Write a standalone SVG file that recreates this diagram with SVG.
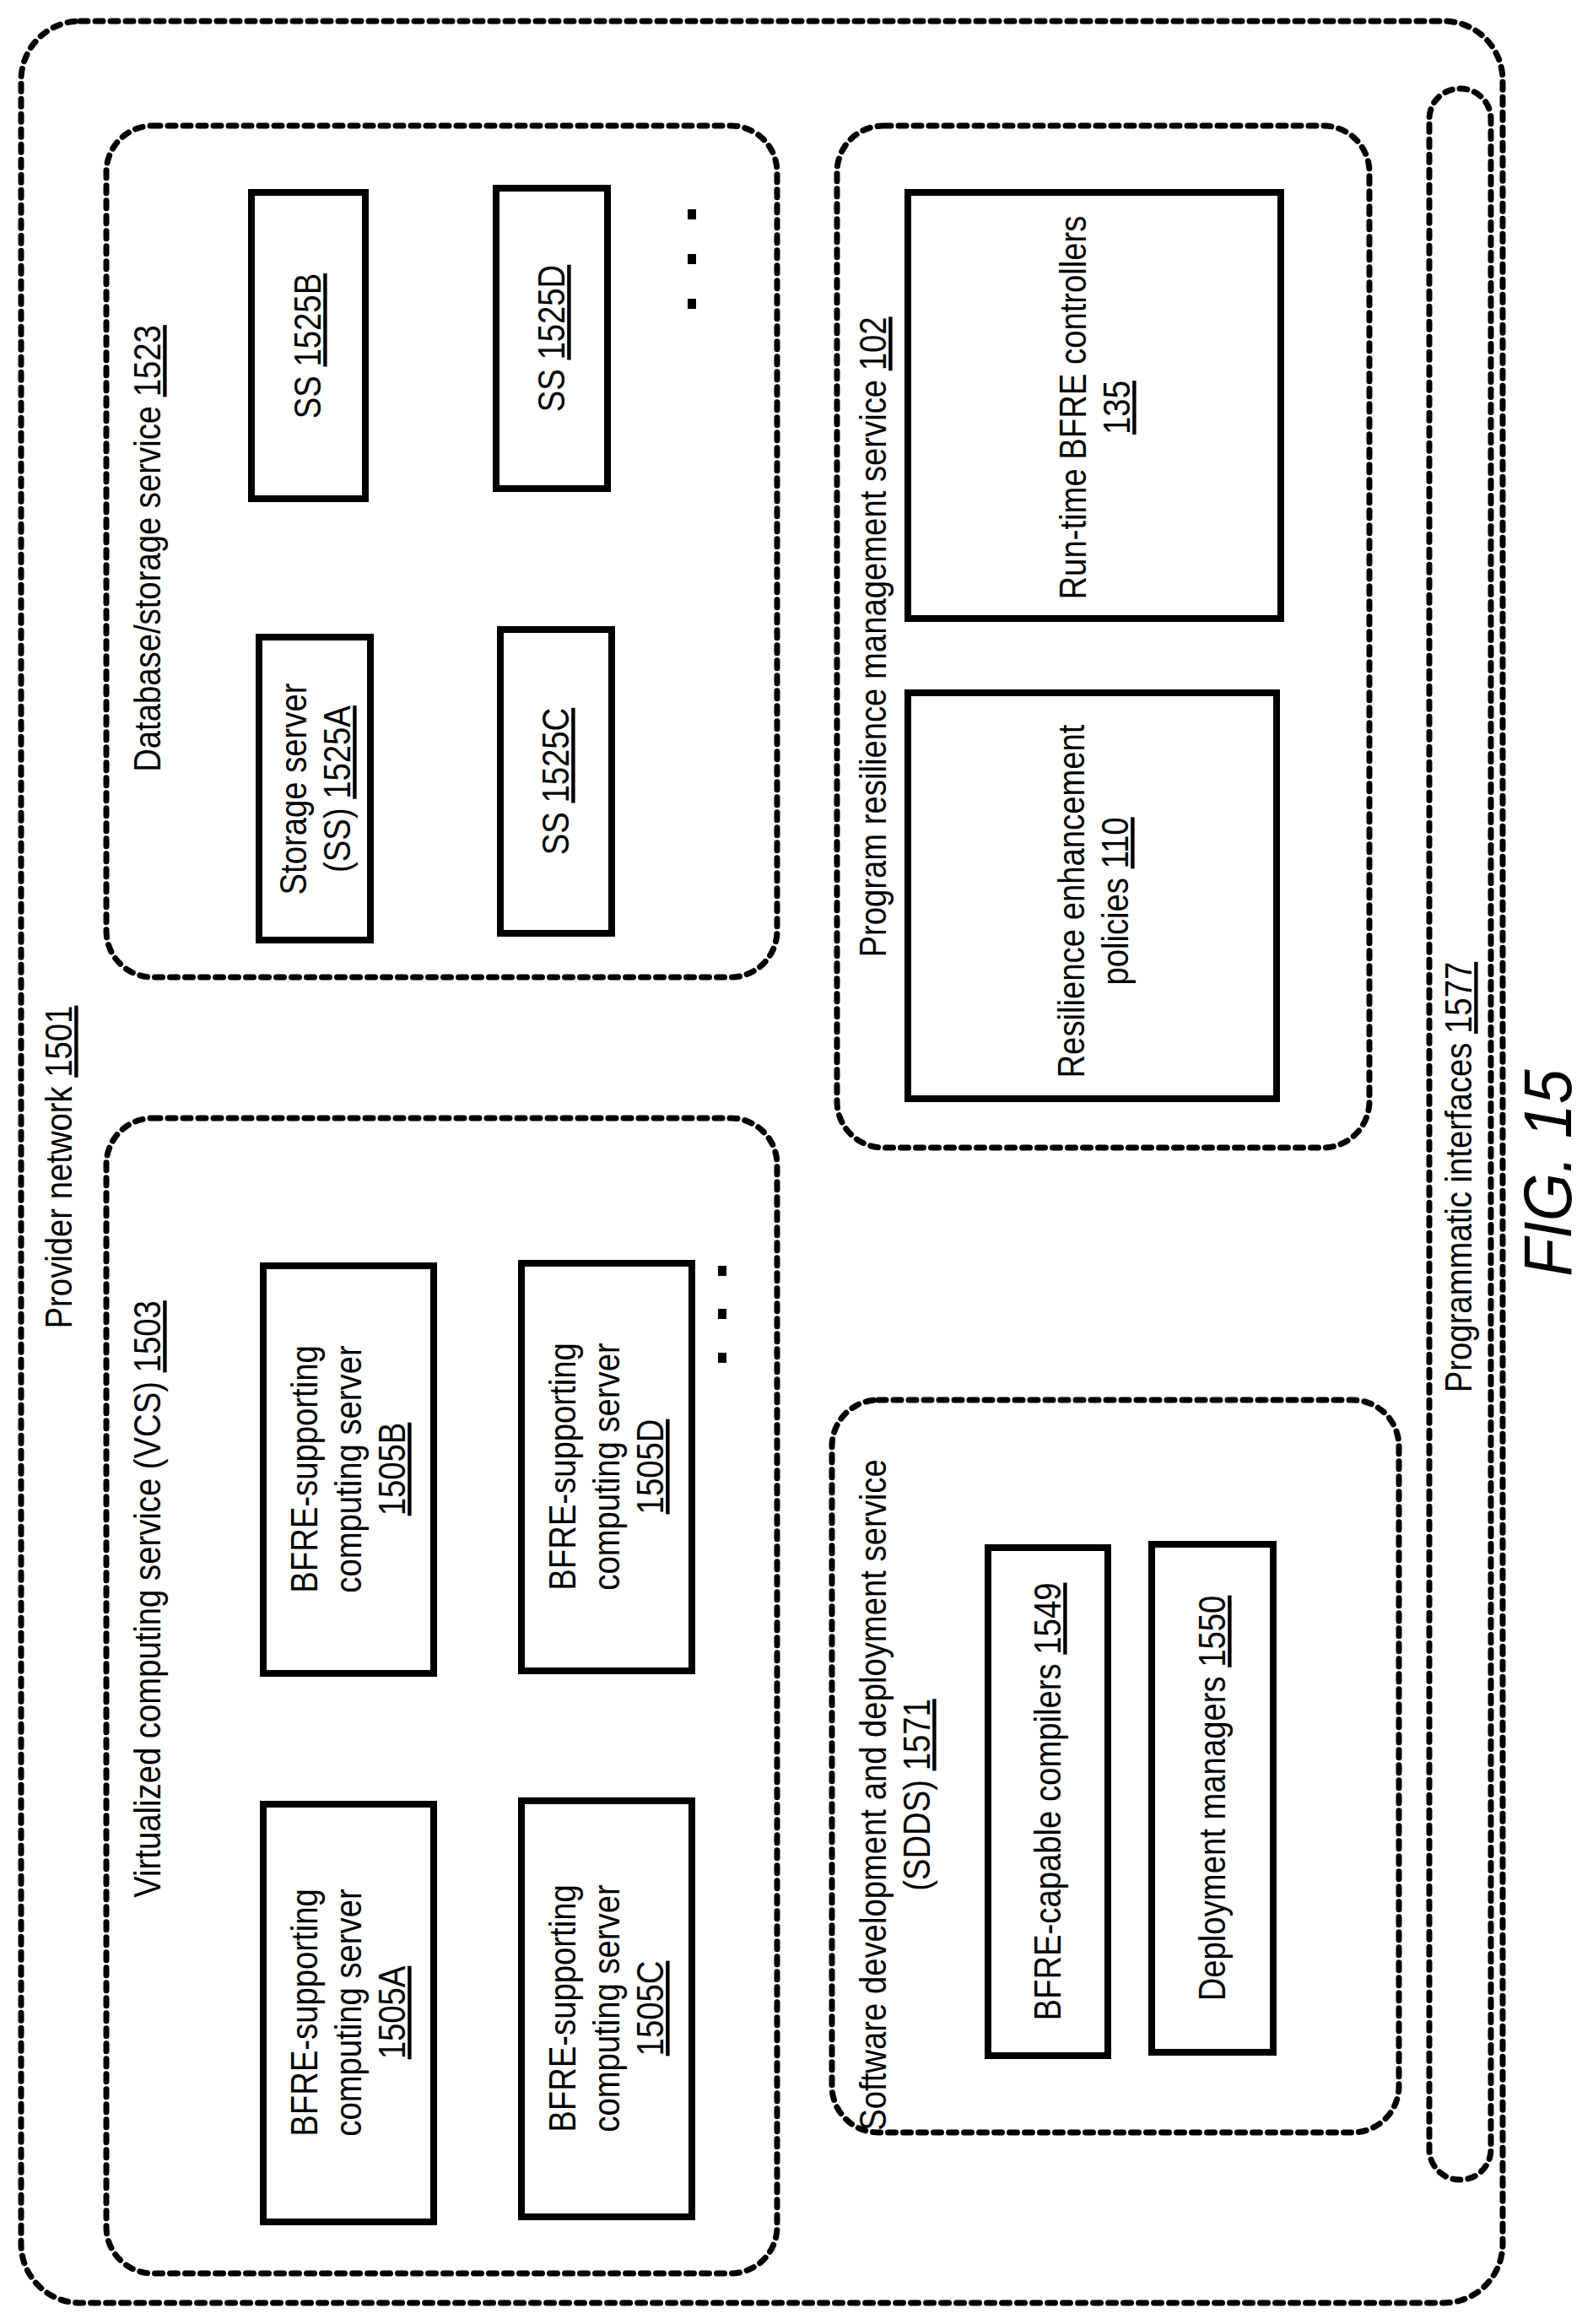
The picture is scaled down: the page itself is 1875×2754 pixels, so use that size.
<svg xmlns="http://www.w3.org/2000/svg" width="1875" height="2754" viewBox="0 0 1875 2754">
<style>
.d{fill:none;stroke:#000;stroke-width:7;stroke-dasharray:9 9;stroke-linecap:round}
.b{fill:#fff;stroke:#000;stroke-width:8}
text{font-family:"Liberation Sans",Arial,sans-serif;font-size:44px;text-anchor:middle;fill:#000}
.u{text-decoration:underline}
</style>
<rect width="1875" height="2754" fill="#fff"/>
<g id="provider"><rect class="d" x="25" y="25" width="1756" height="2704" rx="70"/>
<text transform="translate(70,1383) rotate(-90) scale(0.87,1)" dy="15">Provider network <tspan class="u">1501</tspan></text></g>
<g id="pi"><rect class="d" x="1694" y="105" width="73" height="2478" rx="36"/>
<text transform="translate(1729,1395) rotate(-90) scale(0.87,1)" dy="15">Programmatic interfaces <tspan class="u">1577</tspan></text></g>
<g id="dss"><rect class="d" x="126" y="149" width="795" height="1009" rx="55"/>
<text transform="translate(175,650) rotate(-90) scale(0.87,1)" dy="15">Database/storage service <tspan class="u">1523</tspan></text></g>
<g id="ssA"><rect class="b" x="307" y="755" width="132" height="359"/>
<text transform="translate(373,935) rotate(-90) scale(0.87,1)"><tspan x="0" dy="-10">Storage server</tspan><tspan x="0" dy="52">(SS) <tspan class="u">1525A</tspan></tspan></text></g>
<g id="ssB"><rect class="b" x="298" y="228" width="135" height="363"/>
<text transform="translate(365,410) rotate(-90) scale(0.87,1)" dy="15">SS <tspan class="u">1525B</tspan></text></g>
<g id="ssC"><rect class="b" x="593" y="746" width="132" height="360"/>
<text transform="translate(659,926) rotate(-90) scale(0.87,1)" dy="15">SS <tspan class="u">1525C</tspan></text></g>
<g id="ssD"><rect class="b" x="588" y="223" width="132" height="356"/>
<text transform="translate(654,401) rotate(-90) scale(0.87,1)" dy="15">SS <tspan class="u">1525D</tspan></text></g>
<g id="dots1" fill="#000"><rect x="815" y="248" width="10" height="12"/><rect x="815" y="301" width="10" height="12"/><rect x="815" y="354" width="10" height="12"/></g>
<g id="prms"><rect class="d" x="992" y="149" width="631" height="1211" rx="55"/>
<text transform="translate(1035,755) rotate(-90) scale(0.87,1)" dy="15">Program resilience management service <tspan class="u">102</tspan></text></g>
<g id="rep"><rect class="b" x="1076" y="821" width="437" height="481"/>
<text transform="translate(1295,1068) rotate(-90) scale(0.87,1)"><tspan x="0" dy="-10">Resilience enhancement</tspan><tspan x="0" dy="52">policies  <tspan class="u">110</tspan></tspan></text></g>
<g id="rtc"><rect class="b" x="1076" y="228" width="442" height="505"/>
<text transform="translate(1297,483) rotate(-90) scale(0.87,1)"><tspan x="0" dy="-10">Run-time BFRE controllers</tspan><tspan x="0" dy="52" class="u">135</tspan></text></g>
<g id="vcs"><rect class="d" x="126" y="1325" width="795" height="1369" rx="55"/>
<text transform="translate(175,1895) rotate(-90) scale(0.87,1)" dy="15">Virtualized computing service  (VCS) <tspan class="u">1503</tspan></text></g>
<g id="sA"><rect class="b" x="312" y="2138" width="202" height="495"/>
<text transform="translate(413,2385) rotate(-90) scale(0.87,1)"><tspan x="0" dy="-37">BFRE-supporting</tspan><tspan x="0" dy="52">computing server</tspan><tspan x="0" dy="52" class="u">1505A</tspan></text></g>
<g id="sB"><rect class="b" x="312" y="1500" width="202" height="483"/>
<text transform="translate(413,1741) rotate(-90) scale(0.87,1)"><tspan x="0" dy="-37">BFRE-supporting</tspan><tspan x="0" dy="52">computing server</tspan><tspan x="0" dy="52" class="u">1505B</tspan></text></g>
<g id="sC"><rect class="b" x="618" y="2134" width="202" height="493"/>
<text transform="translate(719,2380) rotate(-90) scale(0.87,1)"><tspan x="0" dy="-37">BFRE-supporting</tspan><tspan x="0" dy="52">computing server</tspan><tspan x="0" dy="52" class="u">1505C</tspan></text></g>
<g id="sD"><rect class="b" x="618" y="1497" width="202" height="483"/>
<text transform="translate(719,1738) rotate(-90) scale(0.87,1)"><tspan x="0" dy="-37">BFRE-supporting</tspan><tspan x="0" dy="52">computing server</tspan><tspan x="0" dy="52" class="u">1505D</tspan></text></g>
<g id="dots2" fill="#000"><rect x="851" y="1500" width="10" height="12"/><rect x="851" y="1551" width="10" height="12"/><rect x="851" y="1603" width="10" height="12"/></g>
<g id="sdds"><rect class="d" x="986" y="1659" width="672" height="868" rx="55"/>
<text transform="translate(1060,2127) rotate(-90) scale(0.87,1)"><tspan x="0" dy="-10">Software development and deployment service</tspan><tspan x="0" dy="52">(SDDS) <tspan class="u">1571</tspan></tspan></text></g>
<g id="comp"><rect class="b" x="1171" y="1834" width="142" height="602"/>
<text transform="translate(1242,2135) rotate(-90) scale(0.87,1)" dy="15">BFRE-capable compilers  <tspan class="u">1549</tspan></text></g>
<g id="dep"><rect class="b" x="1365" y="1830" width="144" height="602"/>
<text transform="translate(1437,2131) rotate(-90) scale(0.87,1)" dy="15">Deployment managers  <tspan class="u">1550</tspan></text></g>
<g id="connectors"/>
<text transform="translate(1834,1390) rotate(-90) scale(0.92,1)" dy="28" style="font-size:80px;font-style:italic">FIG. 15</text>
</svg>
